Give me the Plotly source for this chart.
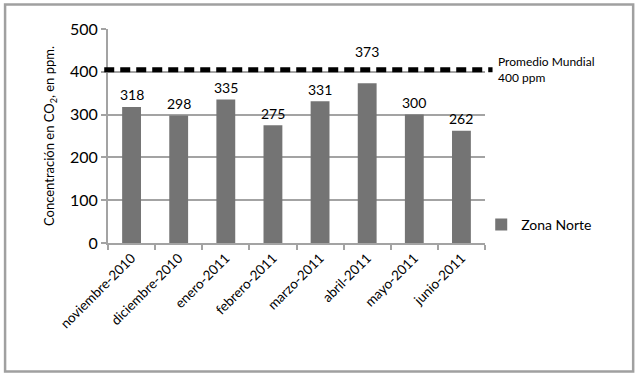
import plotly.graph_objects as go

meses = ["noviembre-2010", "diciembre-2010", "enero-2011", "febrero-2011",
         "marzo-2011", "abril-2011", "mayo-2011", "junio-2011"]
zona_norte = [318, 298, 335, 275, 331, 373, 300, 262]
promedio_mundial = 405
y_ticks = [0, 100, 200, 300, 400, 500]

FONT = "Lato"
GRID = "#a3a3a3"
BAR = "#747474"

fig = go.Figure()
fig.add_trace(go.Bar(x=meses, y=zona_norte, name="Zona Norte",
                     marker=dict(color=BAR, line=dict(width=0)), width=0.4))

# value labels
for m, v in zip(meses, zona_norte):
    shift = 32 if m == "abril-2011" else 12
    fig.add_annotation(x=m, y=v, text=str(v), showarrow=False, yshift=shift,
                       font=dict(family=FONT, size=14, color="#000"))

# world average dashed line
fig.add_shape(type="line", xref="paper", yref="y", x0=-0.01, x1=1.02,
              y0=promedio_mundial, y1=promedio_mundial,
              line=dict(color="#000", width=5, dash="10px,6px"))
fig.add_annotation(xref="paper", yref="y", x=1.03, y=promedio_mundial,
                   text="Promedio Mundial<br>400 ppm", showarrow=False,
                   xanchor="left", yanchor="middle", align="left",
                   font=dict(family=FONT, size=12, color="#000"))

# outer border
fig.add_shape(type="rect", xref="paper", yref="paper", x0=-0.273, x1=1.393,
              y0=-0.601, y1=1.114, line=dict(color="#a0a0a0", width=2.5))

fig.update_layout(
    width=638, height=379,
    margin=dict(l=108, r=153, t=29, b=136, autoexpand=False),
    paper_bgcolor="white", plot_bgcolor="white",
    font=dict(family=FONT, color="#000"),
    showlegend=True,
    legend=dict(x=0.99, y=0.085, xanchor="left", yanchor="middle",
                font=dict(family=FONT, size=14), itemwidth=30),
    bargap=0.6,
)
fig.update_xaxes(
    type="category", showgrid=False, showline=True, linecolor=GRID, linewidth=2,
    ticks="outside", tickson="boundaries", ticklen=5, tickcolor=GRID, tickwidth=2,
    tickangle=-45, tickfont=dict(family=FONT, size=13.5), automargin=False,
)
fig.update_yaxes(
    range=[0, 500], tickvals=y_ticks, showgrid=True, gridcolor=GRID, gridwidth=1.5,
    showline=True, linecolor=GRID, linewidth=2, ticks="outside", ticklen=5,
    tickcolor=GRID, tickwidth=2, tickfont=dict(family=FONT, size=16),
    zeroline=False, automargin=False,
    title=dict(text="Concentración en CO<sub>2</sub>, en ppm.", standoff=12,
               font=dict(family=FONT, size=13)),
)

fig.write_html("out.html", config={"displayModeBar": False},
               post_script="document.body.style.margin='0';")
